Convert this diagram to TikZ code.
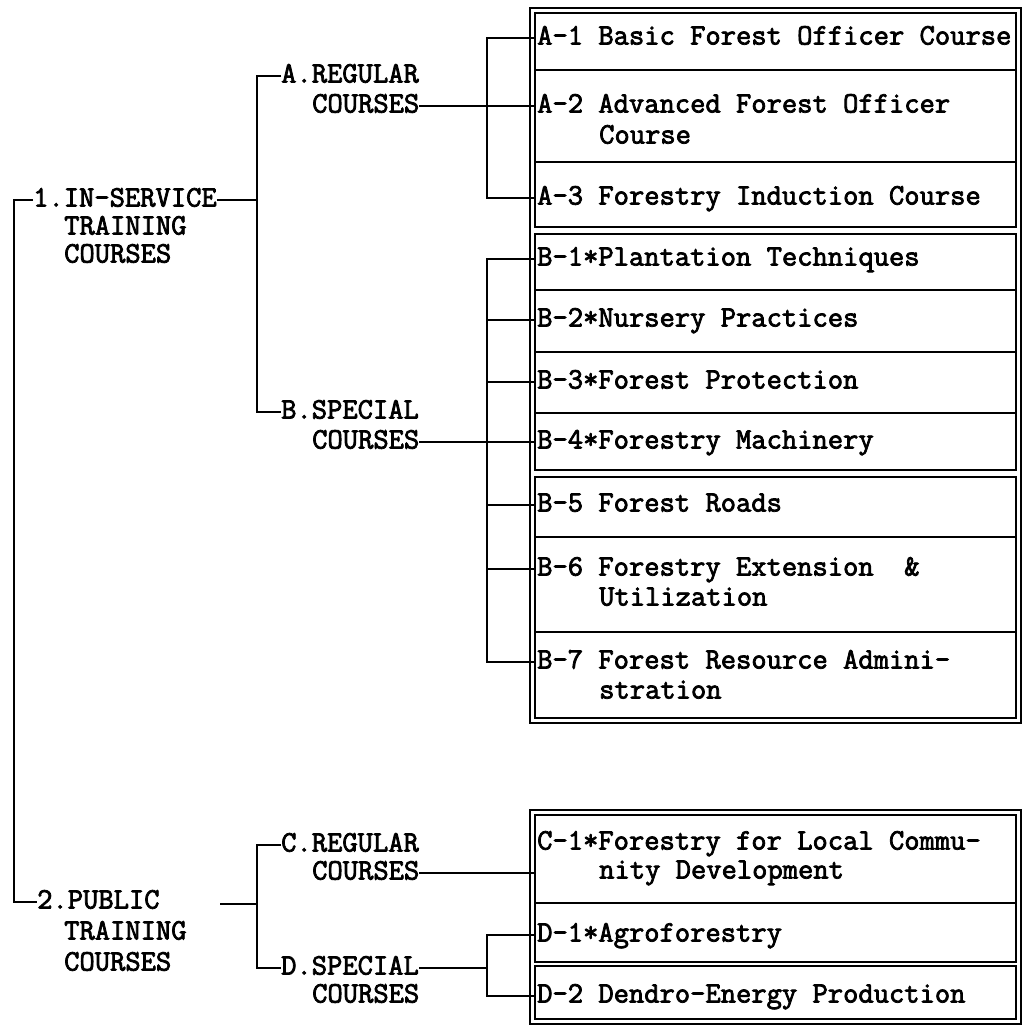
\documentclass[tikz,border=0pt]{standalone}
\usepackage{fontspec}
\newfontfamily\tw{Latin Modern Mono}[FakeBold=2.6]
\usetikzlibrary{fit}
\begin{document}
\begin{tikzpicture}[x=1pt,y=-1pt,
  txt/.style={anchor=west, inner sep=0pt, font=\tw\fontsize{29.7}{34}\selectfont, text height=18.1pt, text depth=5pt},
  rowbox/.style={draw, line width=1.4pt, minimum width=481pt, inner sep=0pt, outer sep=0pt},
  frame/.style={draw, line width=1.4pt, inner sep=5pt},
  conn/.style={line width=1.6pt}]
\useasboundingbox (0,0) rectangle (1023,1027);

% course rows
\node[rowbox, minimum height=57pt] (a1) at (775.5,41.5) {};
\node[rowbox, minimum height=92pt] (a2) at (775.5,116) {};
\node[rowbox, minimum height=65pt] (a3) at (775.5,194.5) {};
\node[rowbox, minimum height=56pt] (b1) at (775.5,262) {};
\node[rowbox, minimum height=62pt] (b2) at (775.5,321) {};
\node[rowbox, minimum height=61pt] (b3) at (775.5,382.5) {};
\node[rowbox, minimum height=57pt] (b4) at (775.5,441.5) {};
\node[rowbox, minimum height=60pt] (b5) at (775.5,507) {};
\node[rowbox, minimum height=95pt] (b6) at (775.5,584.5) {};
\node[rowbox, minimum height=86pt] (b7) at (775.5,675) {};
\node[rowbox, minimum height=88pt] (c1) at (775.5,859) {};
\node[rowbox, minimum height=59pt] (d1) at (775.5,932.5) {};
\node[rowbox, minimum height=53pt] (d2) at (775.5,992.5) {};
\node[frame, fit=(a1)(b7)] (fr1) {};
\node[frame, fit=(c1)(d2)] (fr2) {};

% course texts
\node[txt] (a1t) at (537,38) {A-1 Basic Forest Officer Course};
\node[txt] (a2t) at (537,106) {A-2 Advanced Forest Officer};
\node[txt] (a2u) at (599,137) {Course};
\node[txt] (a3t) at (537,198) {A-3 Forestry Induction Course};
\node[txt] (b1t) at (537,259) {B-1*Plantation Techniques};
\node[txt] (b2t) at (537,320) {B-2*Nursery Practices};
\node[txt] (b3t) at (537,382) {B-3*Forest Protection};
\node[txt] (b4t) at (537,442) {B-4*Forestry Machinery};
\node[txt] (b5t) at (537,505) {B-5 Forest Roads};
\node[txt] (b6t) at (537,569) {B-6 Forestry Extension\ \ \&};
\node[txt] (b6u) at (599,599) {Utilization};
\node[txt] (b7t) at (537,662) {B-7 Forest Resource Admini-};
\node[txt] (b7u) at (599,692) {stration};
\node[txt] (c1t) at (537,843) {C-1*Forestry for Local Commu-};
\node[txt] (c1u) at (599,872) {nity Development};
\node[txt] (d1t) at (537,935) {D-1*Agroforestry};
\node[txt] (d2t) at (537,996) {D-2 Dendro-Energy Production};

% category labels
\node[txt] (n1a) at (33,200) {1.IN-SERVICE};
\node[txt] (n1b) at (64,228) {TRAINING};
\node[txt] (n1c) at (64,256) {COURSES};
\node[txt] (nA1) at (281,76) {A.REGULAR};
\node[txt] (nA2) at (312,106) {COURSES};
\node[txt] (nB1) at (281,412) {B.SPECIAL};
\node[txt] (nB2) at (312,442) {COURSES};
\node[txt] (n2a) at (37,902) {2.PUBLIC};
\node[txt] (n2b) at (64,933) {TRAINING};
\node[txt] (n2c) at (64,964) {COURSES};
\node[txt] (nC1) at (281,845) {C.REGULAR};
\node[txt] (nC2) at (312,873) {COURSES};
\node[txt] (nD1) at (281,968) {D.SPECIAL};
\node[txt] (nD2) at (312,996) {COURSES};

% connector columns
\coordinate (xT) at (14,0);
\coordinate (xAB) at (257,0);
\coordinate (xBr) at (487,0);
\coordinate (s2) at (220,904);

\draw[conn] (n1a.west) -| (xT |- n2a.west) -- (n2a.west);
\draw[conn] (n1a.east) -- (xAB |- n1a.east);
\draw[conn] (nA1.west) -| (xAB |- nB1.west) -- (nB1.west);
\draw[conn] (nA2.east) -- (a2.west |- nA2.east);
\draw[conn] (a1.west |- a1t.west) -| (xBr |- a3t.west) -- (a3.west |- a3t.west);
\draw[conn] (nB2.east) -- (b4.west |- nB2.east);
\draw[conn] (b1.west |- b1t.west) -| (xBr |- b7t.west) -- (b7.west |- b7t.west);
\foreach \r in {b2,b3,b5,b6}
  \draw[conn] (xBr |- \r t.west) -- (\r.west |- \r t.west);
\draw[conn] (s2) -- (xAB |- s2);
\draw[conn] (nC1.west) -| (xAB |- nD1.west) -- (nD1.west);
\draw[conn] (nC2.east) -- (c1.west |- nC2.east);
\draw[conn] (nD1.east) -- (xBr |- nD1.east);
\draw[conn] (d1.west |- d1t.west) -| (xBr |- d2t.west) -- (d2.west |- d2t.west);
\end{tikzpicture}
\end{document}
